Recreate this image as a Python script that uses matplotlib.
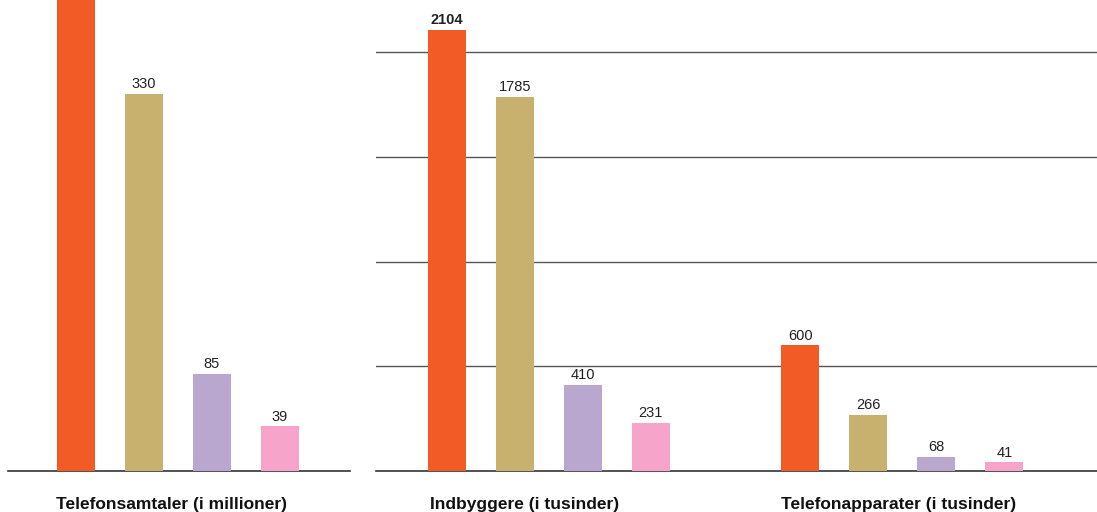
import numpy as np
import matplotlib
matplotlib.use('Agg')
import matplotlib.pyplot as plt

plt.rcParams['font.family'] = ['Liberation Sans', 'DejaVu Sans']

# 数据
farver = ['#F25A26', '#C8B16E', '#B9A7CF', '#F6A4C9']

samtaler_vaerdier = [500, 330, 85, 39]          # første søjle er skåret af i billedet
samtaler_etiketter = [None, '330', '85', '39']
samtaler_titel = 'Telefonsamtaler (i millioner)'

indbyggere_vaerdier = [2104, 1785, 410, 231]
indbyggere_etiketter = ['2104', '1785', '410', '231']
indbyggere_titel = 'Indbyggere (i tusinder)'

apparater_vaerdier = [600, 266, 68, 41]
apparater_etiketter = ['600', '266', '68', '41']
apparater_titel = 'Telefonapparater (i tusinder)'

gitter = [500, 1000, 1500, 2000]

W, H = 1097, 512
fig = plt.figure(figsize=(W / 100, H / 100), dpi=100)
fig.patch.set_facecolor('white')


def px_axes(x0, x1, y0, y1):
    # pixel-koordinater -> figurbrøk
    return fig.add_axes([x0 / W, 1 - y1 / H, (x1 - x0) / W, (y1 - y0) / H])


def tegn(ax, pos, vaerdier, etiketter, fed=None):
    ax.bar(pos, vaerdier, width=0.56, color=farver, zorder=3)
    for i, (p, v, e) in enumerate(zip(pos, vaerdier, etiketter)):
        if e is None:
            continue
        ax.annotate(e, (p, v), xytext=(0, 2), textcoords='offset points',
                    ha='center', va='bottom', fontsize=10.5, color='#222222',
                    fontweight='bold' if fed == i else 'normal', zorder=4)


def pynt(ax):
    for s in ['top', 'right', 'left']:
        ax.spines[s].set_visible(False)
    ax.spines['bottom'].set_color('#333333')
    ax.spines['bottom'].set_linewidth(1.2)
    ax.set_yticks([])
    ax.tick_params(axis='x', length=0, pad=19)
    for t in ax.get_xticklabels():
        t.set_fontweight('bold')
        t.set_fontsize(12.5)
        t.set_color('#111111')


# venstre panel
ax1 = px_axes(8, 350, 0, 471)
pos1 = np.arange(4)
tegn(ax1, pos1, samtaler_vaerdier, samtaler_etiketter)
ax1.set_xlim(-1.0, 342 / 68 - 1.0)
ax1.set_ylim(0, 471 / 1.142)
ax1.set_xticks([1.40])
ax1.set_xticklabels([samtaler_titel])
pynt(ax1)

# højre panel
ax2 = px_axes(376, 1097, 0, 471)
pos2a = np.arange(4)
pos2b = np.arange(4) + 5.2
tegn(ax2, pos2a, indbyggere_vaerdier, indbyggere_etiketter, fed=0)
tegn(ax2, pos2b, apparater_vaerdier, apparater_etiketter)
for g in gitter:
    ax2.axhline(g, color='#555555', linewidth=1.0, zorder=1)
ax2.set_xlim(-1.04, 721 / 68 - 1.04)
ax2.set_ylim(0, 471 / 0.2095)
ax2.set_xticks([1.15, 6.65])
ax2.set_xticklabels([indbyggere_titel, apparater_titel])
pynt(ax2)

fig.savefig('out.png', dpi=100, facecolor='white')
